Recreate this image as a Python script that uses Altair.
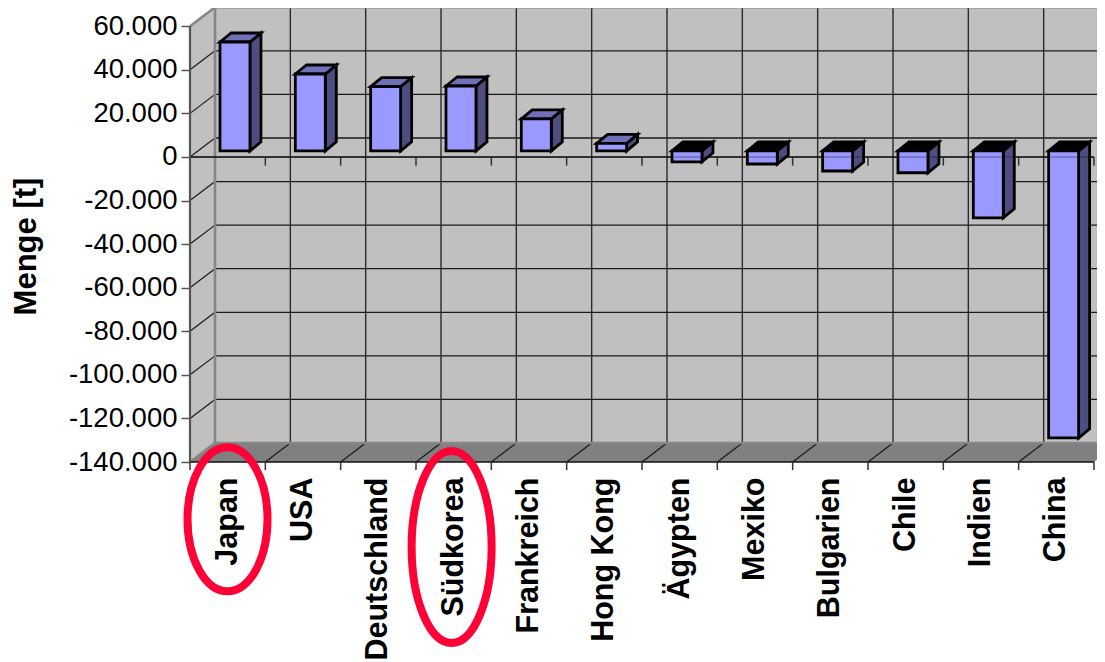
import json
import altair as alt
import pandas as pd

countries = ["Japan", "USA", "Deutschland", "Südkorea", "Frankreich", "Hong Kong",
             "Ägypten", "Mexiko", "Bulgarien", "Chile", "Indien", "China"]
values = [50000, 35300, 29500, 29800, 14700, 3500, -5000, -6000, -9200, -10000, -30700, -131700]
y_ticks = [60000, 40000, 20000, 0, -20000, -40000, -60000, -80000, -100000, -120000, -140000]

# projection of the fake 3D box, in data units
XMAX = 12.04
YMAX = 68349
YMIN = -140000
WALL_DX = 0.332
WALL_DY = 8700
BAR_L = 0.398
BAR_R = 0.796
BAR_DX = 0.146
BAR_DY = 4130
BAR_BASE = 2750
LABEL_POS = 0.495
BAR_STROKE = 2.8

WALL = "#c0c0c0"
FLOOR = "#808080"
EDGE = "#868686"
FRONT = "#9999ff"
SIDE = "#4d4d80"
TOP = "#7070ba"
RED = "#ff0037"
FONT = "Liberation Sans"

X = alt.X(
    "x:Q",
    scale=alt.Scale(domain=[0, XMAX], nice=False, zero=False),
    axis=alt.Axis(
        values=[i + LABEL_POS for i in range(12)],
        labelExpr=json.dumps(countries, ensure_ascii=False) + f"[round(datum.value - {LABEL_POS})]",
        labelAngle=270, labelAlign="right", labelBaseline="middle", labelPadding=15,
        labelFont=FONT, labelFontSize=30.5, labelFontWeight="bold", labelColor="black",
        labelOverlap=False, labelFlush=False, labelBound=False, labelLimit=400,
        ticks=False, domain=False, grid=False, title=None,
    ),
)
Y = alt.Y(
    "y:Q",
    scale=alt.Scale(domain=[YMIN, YMAX], nice=False, zero=False),
    axis=alt.Axis(
        values=y_ticks,
        labelExpr="replace(replace(format(datum.value, ','), ',', '.'), '\u2212', '-')",
        labelFont=FONT, labelFontSize=27.5, labelColor="black", labelPadding=4,
        labelOverlap=False, labelFlush=False, labelBound=False,
        tickSize=9, tickColor="#555555", tickWidth=1.5,
        domain=False, grid=False,
        title="Menge [t]", titleFont=FONT, titleFontSize=31, titleFontWeight="bold",
        titleColor="black", titleX=-164, titleY=238, titleAngle=270,
        titleAlign="center", titleBaseline="middle",
    ),
)


def rules(rows, color, width, opacity=1.0):
    return alt.Chart(pd.DataFrame(rows, columns=["x", "y", "x2", "y2"])).mark_rule(
        color=color, strokeWidth=width, opacity=opacity, clip=False
    ).encode(X, Y, x2="x2:Q", y2="y2:Q")


# walls and floor
back_wall = alt.Chart(pd.DataFrame([{"x": WALL_DX, "x2": XMAX, "y": YMIN + WALL_DY, "y2": YMAX}])).mark_rect(
    color=WALL).encode(X, Y, x2="x2:Q", y2="y2:Q")
left_wall = alt.Chart(pd.DataFrame([
    {"x": 0, "y": 60000, "y2": YMIN},
    {"x": WALL_DX, "y": 60000 + WALL_DY, "y2": YMIN + WALL_DY},
])).mark_area(color=WALL).encode(X, Y, y2="y2:Q")
floor = alt.Chart(pd.DataFrame([
    {"y": YMIN, "x": 0, "x2": 12},
    {"y": YMIN + WALL_DY, "x": WALL_DX, "x2": 12 + WALL_DX},
])).mark_area(color=FLOOR, orient="horizontal", clip=True).encode(X, Y, x2="x2:Q")

grid_h = [(WALL_DX, v + WALL_DY, XMAX, v + WALL_DY) for v in y_ticks[1:-1]]
grid_d = [(0, v, WALL_DX, v + WALL_DY) for v in y_ticks[1:-1]]
grid_v = [(i + WALL_DX, 60000 + WALL_DY, i + WALL_DX, YMIN + WALL_DY) for i in range(1, 12)]
floor_d = [(i, YMIN, i + WALL_DX, YMIN + WALL_DY) for i in range(1, 12)]
edges = [
    (WALL_DX, 60000 + WALL_DY, WALL_DX, YMIN + WALL_DY),
    (0, 60000, WALL_DX, 60000 + WALL_DY),
    (WALL_DX, 60000 + WALL_DY, XMAX, 60000 + WALL_DY),
    (WALL_DX, YMIN + WALL_DY, XMAX, YMIN + WALL_DY),
    (0, YMIN, WALL_DX, YMIN + WALL_DY),
]
front_lines = [(0, YMIN, 12, YMIN), (0, 0, 12, 0)]
ticks = [(i, 0, i, -4000) for i in range(1, 13)] + [(i, YMIN, i, YMIN - 3700) for i in range(13)]
y_line = [(0, 60000, 0, YMIN)]

# bars
rows = []
for i, (name, v) in enumerate(zip(countries, values)):
    hi = max(v, 0) + BAR_BASE
    lo = min(v, 0) + BAR_BASE
    rows.append({"name": name, "left": i + BAR_L, "right": i + BAR_R,
                 "hi": hi, "lo": lo, "neg": v < 0})
bars = pd.DataFrame(rows)

front = alt.Chart(bars.rename(columns={"left": "x", "right": "x2", "hi": "y", "lo": "y2"})).mark_rect(
    color=FRONT, stroke="black", strokeWidth=BAR_STROKE).encode(X, Y, x2="x2:Q", y2="y2:Q")

side_rows = []
top_rows = []
for r in rows:
    side_rows += [
        {"name": r["name"], "x": r["right"], "y": r["hi"], "y2": r["lo"]},
        {"name": r["name"], "x": r["right"] + BAR_DX, "y": r["hi"] + BAR_DY, "y2": r["lo"] + BAR_DY},
    ]
    top_rows += [
        {"name": r["name"], "y": r["hi"], "x": r["left"], "x2": r["right"], "neg": r["neg"]},
        {"name": r["name"], "y": r["hi"] + BAR_DY, "x": r["left"] + BAR_DX, "x2": r["right"] + BAR_DX, "neg": r["neg"]},
    ]
side = alt.Chart(pd.DataFrame(side_rows)).mark_area(
    color=SIDE, stroke="black", strokeWidth=BAR_STROKE).encode(X, Y, y2="y2:Q", detail="name:N")
top_df = pd.DataFrame(top_rows)
top_pos = alt.Chart(top_df[~top_df.neg]).mark_area(
    color=TOP, stroke="black", strokeWidth=BAR_STROKE, orient="horizontal").encode(X, Y, x2="x2:Q", detail="name:N")
top_neg = alt.Chart(top_df[top_df.neg]).mark_area(
    color="black", stroke="black", strokeWidth=BAR_STROKE, orient="horizontal").encode(X, Y, x2="x2:Q", detail="name:N")


def ellipse(cx, cy, a, b):
    path = f"M{-a},0A{a},{b} 0 1,1 {a},0A{a},{b} 0 1,1 {-a},0Z"
    return alt.Chart(pd.DataFrame({"x": [cx], "y": [cy]})).mark_point(
        shape=path, size=4, filled=False, stroke=RED, strokeWidth=8, opacity=1, clip=False
    ).encode(X, Y)


chart = alt.layer(
    back_wall, left_wall, floor,
    rules(grid_h, "#1a1a1a", 1.3),
    rules(grid_v, "#2a2a2a", 1.4),
    rules(grid_d, "#1a1a1a", 1.2),
    rules(floor_d, "#1a1a1a", 1.2),
    rules(edges, EDGE, 2.6),
    rules(front_lines, "#111111", 1.5),
    rules(ticks, "#333333", 1.5),
    rules(y_line, "#555555", 2.2),
    side, top_pos, top_neg, front,
    rules([(0, 0, 12, 0)], "#111111", 1.5, 0.3),
    ellipse(0.498, -166300, 40, 72),
    ellipse(3.473, -179000, 40, 96),
).properties(
    width=907, height=454,
    padding={"left": 182, "top": 0, "right": 0, "bottom": 200},
    autosize=alt.AutoSizeParams(type="none"),
    background="white",
).configure_view(stroke=None)

chart.save("out.html", embed_options={"renderer": "svg", "actions": False})
